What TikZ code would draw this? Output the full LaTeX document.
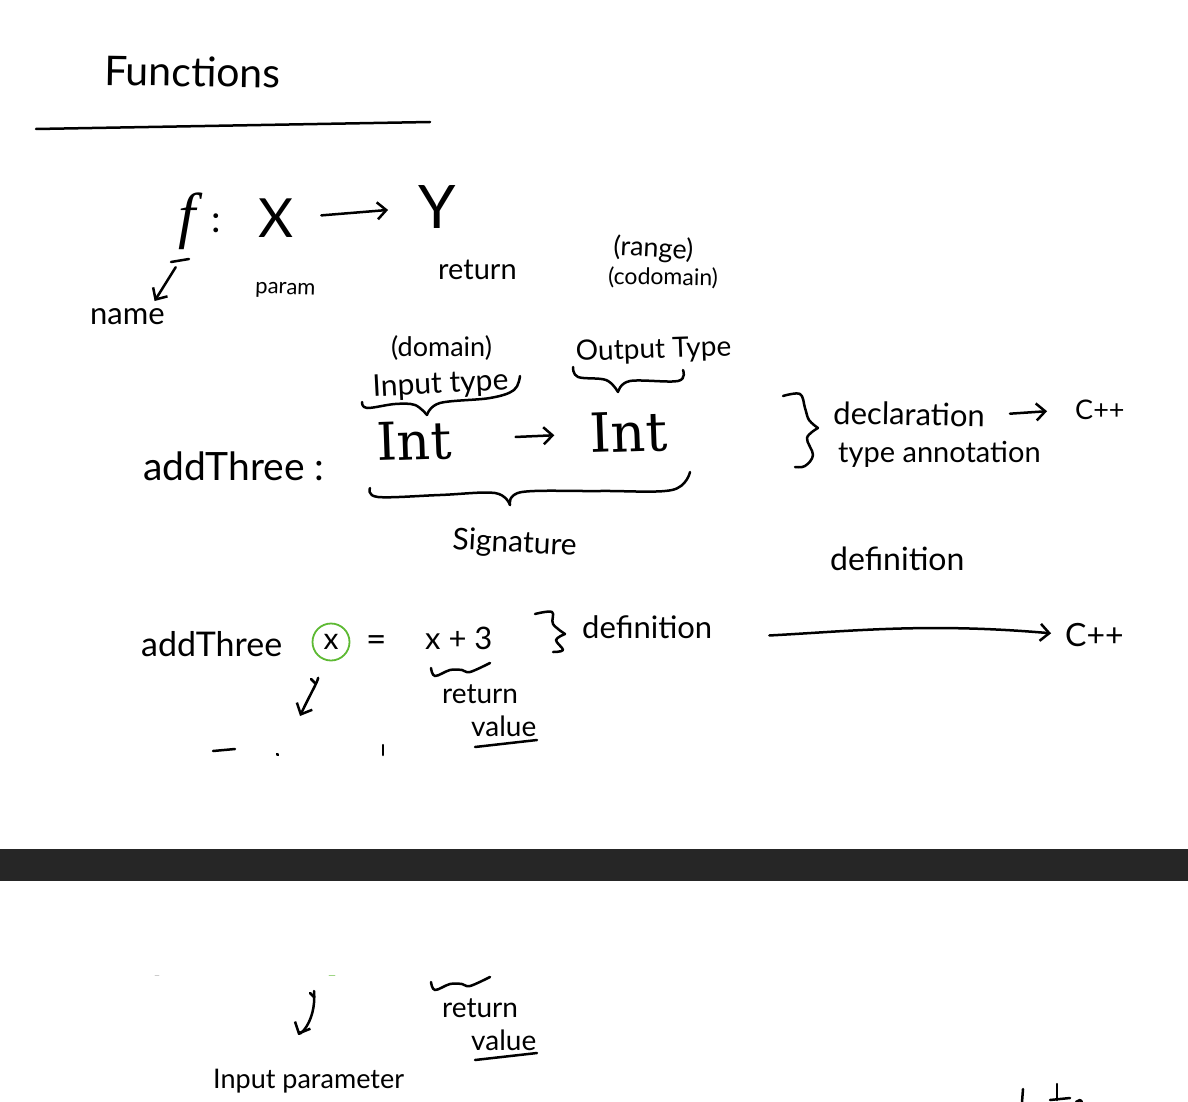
\documentclass[tikz,border=0pt]{standalone}
\usepackage{fontspec}
\setmainfont{Lato}
\newfontfamily\serifhand{DejaVu Serif}
\newfontfamily\italhand{Liberation Serif}
\usetikzlibrary{arrows.meta,positioning}
\definecolor{barcolor}{HTML}{262626}
\definecolor{circlegreen}{HTML}{5DB933}
\tikzset{
  pen/.style={line width=2.5pt, line cap=round, line join=round},
  penarrow/.style={pen, -{Straight Barb[length=9pt,width=17pt,line width=2.5pt]}},
  hand/.style={font=\fontsize{#1}{#1}\selectfont, inner sep=0pt, anchor=base west},
  handserif/.style={font=\serifhand\fontsize{#1}{#1}\selectfont, inner sep=0pt, anchor=base west}
}
\begin{document}
\begin{tikzpicture}[x=1pt,y=-1pt]
\useasboundingbox (0,0) rectangle (1188,1102);
% title
\node[hand=41, rotate=-1] (title) at (104,85){Functions};
\draw[pen] (36,129) -- (430,122);
% f: X -> Y
\node[hand=62, font=\italhand\itshape\fontsize{62}{62}\selectfont] (fname) at (178,236){f};
\node[hand=38] (colon) at (211,232){:};
\node[hand=54] (xtype) at (258,237){X};
\node[hand=60] (ytype) at (418,229){Y};
\draw[penarrow, shorten <=28pt, shorten >=30pt] (xtype.east) -- (ytype.west);
\draw[pen] (171,262) -- (189,259);
\node[hand=31] (name) at (90,324){name};
\node[hand=22, rotate=-2] (param) at (255,293){param};
\node[hand=29] (ret) at (438,279){return};
\node[hand=27, rotate=-3] (range) at (613,255){(range)};
\node[hand=23, rotate=-1] (codomain) at (608,284){(codomain)};
\draw[penarrow, shorten <=21pt, shorten >=8pt] (fname.south) -- (name.20);
% addThree declaration
\node[hand=27] (domain) at (391,356){(domain)};
\node[hand=30, rotate=3] (inputtype) at (373,397){Input type};
\node[hand=28, rotate=2] (outputtype) at (576,361){Output Type};
\draw[pen] plot[smooth, tension=0.6] coordinates {(362,402) (367,408) (395,404) (415,405) (427,415)};
\draw[pen] plot[smooth, tension=0.6] coordinates {(427,415) (440,403) (490,398) (514,390) (520,376)};
\draw[pen] plot[smooth, tension=0.6] coordinates {(573,367) (578,377) (606,380) (618,392)};
\draw[pen] plot[smooth, tension=0.6] coordinates {(618,392) (630,381) (678,381) (683,370)};
\node[hand=39] (addthreea) at (143,480){addThree :};
\node[handserif=52, rotate=2] (intin) at (377,461){Int};
\node[handserif=54, rotate=2] (intout) at (590,453){Int};
\draw[penarrow, shorten <=64pt, shorten >=35pt] (intin.east) -- (intout.west);
\draw[pen] plot[smooth, tension=0.6] coordinates {(370,488) (378,497) (440,495) (495,493) (510,505)};
\draw[pen] plot[smooth, tension=0.6] coordinates {(510,505) (522,492) (600,491) (672,490) (690,472)};
\node[hand=30, rotate=-3] (signature) at (452,549){Signature};
\draw[pen] plot[smooth, tension=0.6] coordinates {(783,396) (800,394) (805,408) (809,420) (818,428)};
\draw[pen] plot[smooth, tension=0.6] coordinates {(818,428) (807,438) (813,455) (805,466) (795,467)};
\node[hand=31, rotate=-1] (declaration) at (833,424){declaration};
\node[hand=29] (annotation) at (838,462){type annotation};
\node[hand=27] (cppa) at (1075,419){C++};
\draw[penarrow, shorten <=25pt, shorten >=28pt] (declaration.east) -- (cppa.west);
\node[hand=32] (definitiona) at (830,570){definition};
% addThree definition
\node[hand=34] (addthreeb) at (141,656){addThree};
\node[font=\fontsize{30}{30}\selectfont, draw=circlegreen, line width=1.8pt, circle, inner sep=0pt, minimum size=37pt] (xparam) at (331,642){x};
\node[hand=35] (equals) at (366,651){=};
\node[hand=31] (body) at (425,649){x + 3};
\draw[pen] plot[smooth, tension=0.6] coordinates {(431,668) (435,676) (450,670) (462,670) (470,672) (490,663)};
\node[hand=28] (retb) at (442,703){return};
\node[hand=28] (valuea) at (471,736){value};
\draw[pen] (475,747) -- (537,740);
\draw[pen] plot[smooth, tension=0.6] coordinates {(535,614) (552,612) (553,624) (565,634)};
\draw[pen] plot[smooth, tension=0.6] coordinates {(565,634) (556,640) (563,650) (553,652)};
\node[hand=31] (definitionb) at (582,638){definition};
\node[hand=32] (cppb) at (1065,646){C++};
\draw[penarrow, shorten <=57pt, shorten >=14pt] (definitionb.south east) to[out=3,in=175] (cppb.west);
\coordinate (xarrowend) at (300,716);
\draw[penarrow, shorten <=20pt] (xparam.235) to[out=-95,in=65] (xarrowend);
\draw[pen] (311,679) -- (315,683);
% clipped tops of the text
\draw[pen] (213,751) -- (235,749);
\draw[pen] (383,745) -- (383,755);
\draw[pen] (277,754) -- (278,755);
% bar
\fill[barcolor] (0,849) rectangle (1188,881);
% part below the bar
\draw[pen, gray!40, line width=0.8pt] (155,975) -- (159,975);
\draw[pen, circlegreen!60, line width=0.8pt] (329,975) -- (335,975);
\coordinate (xcopy) at (314,991);
\node[hand=27] (inputparam) at (213,1088){Input parameter};
\draw[penarrow, shorten >=37pt] (xcopy) to[out=-85,in=65] (inputparam.155);
\draw[pen] (310,993) -- (314,997);
\draw[pen] plot[smooth, tension=0.6] coordinates {(431,982) (435,990) (450,984) (462,984) (470,986) (490,977)};
\node[hand=28] (retc) at (442,1017){return};
\node[hand=28] (valueb) at (471,1050){value};
\draw[pen] (475,1060) -- (537,1053);
\draw[pen] (1023,1089) -- (1022,1102);
\draw[pen] (1057,1084) -- (1057,1100);
\draw[pen] (1050,1100) -- (1070,1098);
\draw[pen] (1076,1102) -- (1080,1100) -- (1082,1102);
\end{tikzpicture}
\end{document}
